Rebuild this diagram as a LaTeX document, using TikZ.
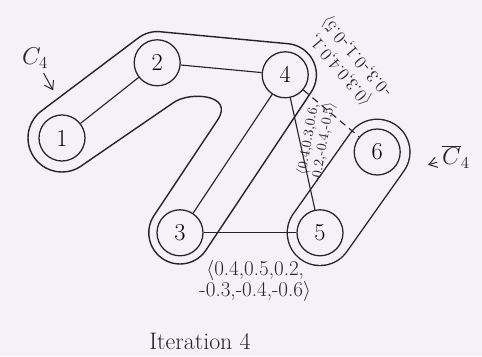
\documentclass[tikz,border=0pt]{standalone}
\usepackage{fontspec}
\usetikzlibrary{arrows.meta,calc}
\definecolor{paper}{RGB}{245,241,249}
\definecolor{ink}{RGB}{38,36,40}

\begin{document}
\begin{tikzpicture}[
  font=\large,
  vertex/.style={circle, draw=ink, line width=0.9pt, fill=paper, minimum size=11.5mm, inner sep=0pt, font=\LARGE},
  edge/.style={draw=ink, line width=0.8pt},
  hull/.style={draw=ink, line width=1pt, line join=round},
  band/.style={draw=ink, line width=#1+2pt, line cap=round, line join=round},
  bandinside/.style={draw=paper, line width=#1, line cap=round, line join=round},
  weight/.style={text=ink, inner sep=1pt, align=center, font=\fontsize{10}{11}\selectfont},
  pointer/.style={-{Straight Barb[length=2mm,width=2.6mm]}, draw=ink, line width=0.7pt}
]

\fill[paper] (0,0) rectangle (12.05,8.9);

% Vertex positions.
\coordinate (c1) at (1.55,5.45);
\coordinate (c2) at (3.93,7.33);
\coordinate (c3) at (4.50,3.08);
\coordinate (c4) at (7.13,7.03);
\coordinate (c5) at (8.00,3.08);
\coordinate (c6) at (9.43,5.10);

% Cluster C4 round 1, 2, 4 and 3.
\def\r{0.78}
\coordinate (hb) at (5.44,5.90);
\coordinate (ha) at (4.33,6.33);
\draw[hull] ($(c1)+(128.3:0.85)$) -- ($(c2)+(128.3:\r)$)
  arc[start angle=128.3, end angle=84.64, radius=\r]
  -- ($(c4)+(84.64:\r)$)
  arc[start angle=84.64, end angle=-33.66, radius=\r]
  -- ($(c3)+(-33.66:\r)$)
  arc[start angle=-33.66, end angle=-213.66, radius=\r]
  -- (hb) .. controls (5.87,6.55) and (4.72,6.62) .. (ha)
  -- ($(c1)+(-51.7:0.85)$)
  arc[start angle=-51.7, end angle=-231.7, radius=0.85]
  -- cycle;
% Its complement round 5 and 6.
\draw[band=16mm] (c5) -- (c6);
\draw[bandinside=16mm] (c5) -- (c6);

\node[vertex] (v1) at (c1) {1};
\node[vertex] (v2) at (c2) {2};
\node[vertex] (v3) at (c3) {3};
\node[vertex] (v4) at (c4) {4};
\node[vertex] (v5) at (c5) {5};
\node[vertex] (v6) at (c6) {6};

\draw[edge] (v1) -- (v2);
\draw[edge] (v2) -- (v4);
\draw[edge] (v4) -- (v3);
\draw[edge] (v3) -- (v5);
\draw[edge] (v4) -- (v5);
\draw[edge, dash pattern=on 5pt off 3.5pt] (v4) -- (v6);

% Edge weights.
\node[weight, font=\fontsize{15}{13}\selectfont] (w35) at (6.38,1.88)
  {$\langle$0.4,0.5,0.2,\\-0.3,-0.4,-0.6$\rangle$};
\node[weight, rotate=80] (w45) at (7.90,5.38)
  {$\langle$0.4,0.3,0.6,\\-0.2,-0.4,-0.5$\rangle$};
\node[weight, rotate=130, font=\fontsize{12.5}{15}\selectfont] (w46) at (8.72,7.33)
  {$\langle$0.3,0.4,0.1,\\-0.3,-0.1,-0.5$\rangle$};

% Cluster names.
\node[text=ink, font=\LARGE] (lc) at (0.88,7.45) {$C_4$};
\coordinate (lctip) at (1.33,6.64);
\draw[pointer] (lc) -- (lctip);
\node[text=ink, font=\LARGE] (lcbar) at (11.40,4.98) {$\overline{C}_4$};
\coordinate (lcbartip) at (10.70,4.78);
\draw[pointer] (lcbar) -- (lcbartip);

\node[text=ink, font=\fontsize{17}{20}\selectfont] (title) at (5.00,0.36) {Iteration 4};

\end{tikzpicture}
\end{document}
